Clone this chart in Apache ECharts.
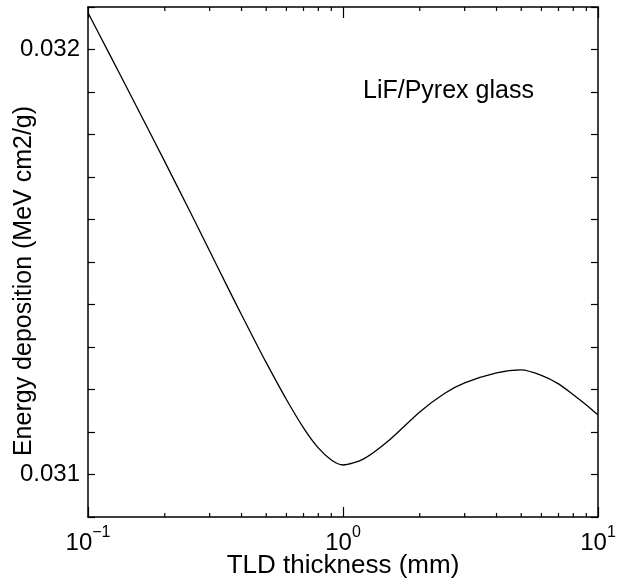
<!DOCTYPE html>
<html>
<head>
<meta charset="utf-8">
<script src="https://cdn.jsdelivr.net/npm/echarts@6/dist/echarts.min.js"></script>
<style>
html,body{margin:0;padding:0;background:#fff;}
#chart{width:617px;height:585px;}
</style>
</head>
<body>
<div id="chart"></div>
<script>
// TLD thickness (mm)
const thickness = [0.1, 0.12, 0.15, 0.2, 0.25, 0.3, 0.35, 0.4, 0.45, 0.5, 0.6, 0.7, 0.8, 0.9, 1.0, 1.2, 1.5, 2, 2.5, 3, 4, 5, 6, 7, 8, 9, 10];
// Energy deposition (MeV cm2/g)
const energy = [0.0320866, 0.031995, 0.0318824, 0.0317361, 0.0316211, 0.0315257, 0.031445, 0.0313758, 0.0313159, 0.0312632, 0.0311764, 0.0311098, 0.0310626, 0.0310342, 0.0310224, 0.0310361, 0.0310781, 0.0311473, 0.0311907, 0.0312155, 0.0312391, 0.0312462, 0.0312333, 0.0312132, 0.0311877, 0.0311636, 0.03114];
const xTickLabels = {0.1: ['10', '\u22121'], 1: ['10', '0'], 10: ['10', '1']};
const yTickLabels = ['0.031', '0.032'];
const minorX = [0.2, 0.3, 0.4, 0.5, 0.6, 0.7, 0.8, 0.9, 2, 3, 4, 5, 6, 7, 8, 9];
const yMin = 0.0309, yMax = 0.0321, yStep = 0.0001;
const annotation = 'LiF/Pyrex glass';
const xName = 'TLD thickness (mm)';
const yName = 'Energy deposition (MeV cm2/g)';

const FONT = 'Liberation Sans, Arial, Helvetica, sans-serif';
const chart = echarts.init(document.getElementById('chart'));

function yLabel(v) {
  for (const t of yTickLabels) {
    if (Math.abs(v - parseFloat(t)) < 1e-9) return t;
  }
  return '';
}
function xLabel(v) {
  for (const k in xTickLabels) {
    if (Math.abs(Math.log10(v) - Math.log10(parseFloat(k))) < 1e-6) {
      return '{b|' + xTickLabels[k][0] + '}{s|' + xTickLabels[k][1] + '}';
    }
  }
  return '';
}

const axisLine = {show: true, lineStyle: {color: '#000', width: 1.5}};

chart.setOption({
  animation: false,
  backgroundColor: '#fff',
  grid: {left: 88, right: 19, top: 7, bottom: 68, containLabel: false, outerBoundsMode: 'none'},
  xAxis: [{
    type: 'log', logBase: 10, min: 0.1, max: 10, position: 'bottom',
    axisLine: axisLine,
    axisTick: {show: true, inside: true, length: 10, lineStyle: {color: '#000', width: 1.2}},
    splitLine: {show: false},
    axisLabel: {
      show: true, margin: 8, color: '#000', fontFamily: FONT,
      formatter: xLabel,
      rich: {
        b: {fontSize: 24, fontFamily: FONT, color: '#000', lineHeight: 30, verticalAlign: 'bottom'},
        s: {fontSize: 16, fontFamily: FONT, color: '#000', lineHeight: 16, verticalAlign: 'top'}
      }
    },
    name: xName, nameLocation: 'middle', nameGap: 36, nameMoveOverlap: false,
    nameTextStyle: {fontSize: 26, fontFamily: FONT, color: '#000'}
  }, {
    type: 'log', logBase: 10, min: 0.1, max: 10, position: 'top',
    axisLine: axisLine,
    axisTick: {show: true, inside: true, length: 11, lineStyle: {color: '#000', width: 1.2}},
    splitLine: {show: false},
    axisLabel: {show: false}
  }],
  yAxis: [{
    type: 'value', min: yMin, max: yMax, interval: yStep, position: 'left',
    axisLine: axisLine,
    axisTick: {show: true, inside: true, length: 7, lineStyle: {color: '#000', width: 1.2}},
    splitLine: {show: false},
    axisLabel: {show: true, margin: 8, color: '#000', fontSize: 24, fontFamily: FONT, formatter: yLabel}
  }, {
    type: 'value', min: yMin, max: yMax, interval: yStep, position: 'right',
    axisLine: axisLine,
    axisTick: {show: true, inside: true, length: 7, lineStyle: {color: '#000', width: 1.2}},
    splitLine: {show: false},
    axisLabel: {show: false}
  }],
  graphic: [{
    type: 'text', left: 363, top: 79,
    style: {text: annotation, fontSize: 25, fontFamily: FONT, fill: '#000'}
  }, {
    type: 'text', x: 24, y: 281, rotation: Math.PI / 2,
    style: {text: yName, fontSize: 25, fontFamily: FONT, fill: '#000', align: 'center', verticalAlign: 'middle'}
  }],
  series: [{
    type: 'line', xAxisIndex: 0, yAxisIndex: 0,
    data: thickness.map((t, i) => [t, energy[i]]),
    showSymbol: false, smooth: 0.25,
    lineStyle: {color: '#000', width: 1.3},
    z: 3
  }, {
    type: 'custom', xAxisIndex: 0, yAxisIndex: 0, silent: true, z: 4,
    data: minorX.map(v => [v, yMin]),
    encode: {x: 0, y: 1},
    renderItem: function (params, api) {
      const x = api.coord([api.value(0), api.value(1)])[0];
      const cs = params.coordSys;
      const st = {stroke: '#000', lineWidth: 1.2};
      return {
        type: 'group', children: [
          {type: 'line', shape: {x1: x, y1: cs.y + cs.height, x2: x, y2: cs.y + cs.height - 4}, style: st},
          {type: 'line', shape: {x1: x, y1: cs.y, x2: x, y2: cs.y + 4}, style: st}
        ]
      };
    }
  }]
});
</script>
</body>
</html>
